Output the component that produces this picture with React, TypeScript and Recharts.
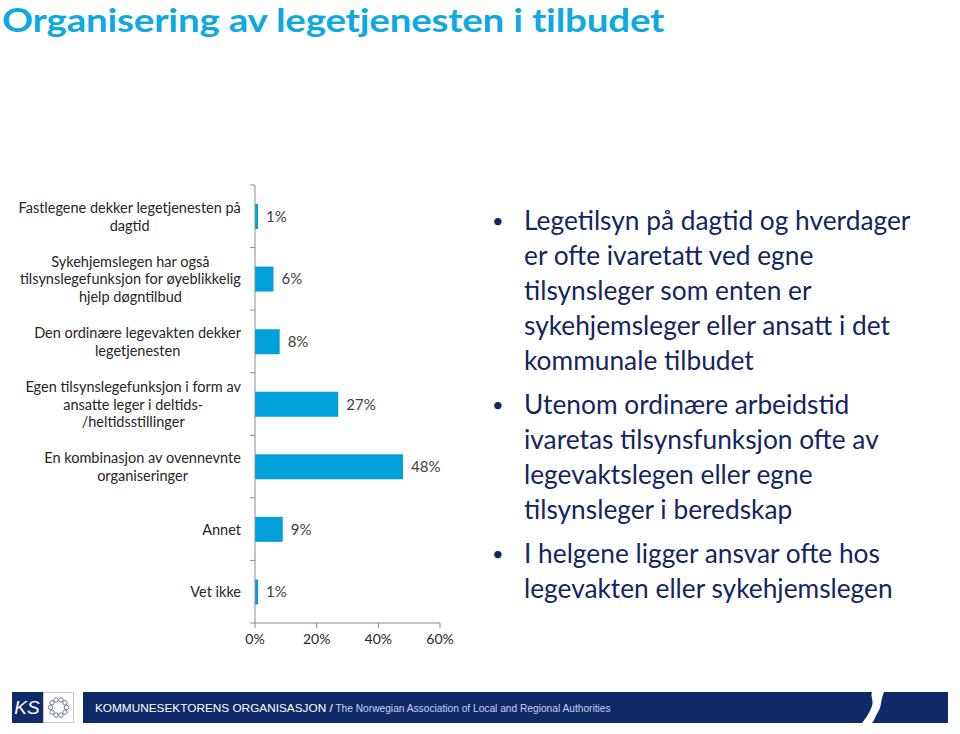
import React from 'react';
import { BarChart, Bar, XAxis, YAxis, LabelList } from 'recharts';

// chart data
const categories = [
  'Fastlegene dekker legetjenesten på\ndagtid',
  'Sykehjemslegen har også\ntilsynslegefunksjon for øyeblikkelig\nhjelp døgntilbud',
  'Den ordinære legevakten dekker\nlegetjenesten',
  'Egen tilsynslegefunksjon i form av\nansatte leger i deltids-\n/heltidsstillinger',
  'En kombinasjon av ovennevnte\norganiseringer',
  'Annet',
  'Vet ikke',
];
const shares = [1, 6, 8, 27, 48, 9, 1];
const xTicks = [0, 20, 40, 60];

const bullets = [
  ['Legetilsyn på dagtid og hverdager', 'er ofte ivaretatt ved egne', 'tilsynsleger som enten er', 'sykehjemsleger eller ansatt i det', 'kommunale tilbudet'],
  ['Utenom ordinære arbeidstid', 'ivaretas tilsynsfunksjon ofte av', 'legevaktslegen eller egne', 'tilsynsleger i beredskap'],
  ['I helgene ligger ansvar ofte hos', 'legevakten eller sykehjemslegen'],
];

const BLUE = '#00A0DC';
const NAVY = '#0E2A68';
const LABEL_SIZE = 14.5;
const LABEL_FONT = `${LABEL_SIZE}px Lato`;
const TICK_SIZE = 6;
const TICK_MARGIN = 8;
const LINE_H = 17.5;

let ctx: CanvasRenderingContext2D | null = null;
function textWidth(s: string) {
  if (!ctx) ctx = document.createElement('canvas').getContext('2d');
  if (!ctx) return s.length * 6;
  ctx.font = LABEL_FONT;
  return ctx.measureText(s).width;
}

// Excel-style category label: block right-aligned, lines centred inside it,
// plus the small tick marks that sit on the band boundaries
function CategoryTick(props: any) {
  const { x, y, payload, index, visibleTicksCount } = props;
  const lines = String(payload.value).split('\n');
  const maxW = Math.max(...lines.map(textWidth));
  const cx = x - maxW / 2;
  const top = y - ((lines.length - 1) * LINE_H) / 2;
  const axisX = x + TICK_MARGIN + TICK_SIZE;
  const half = payload.offset || 0;
  return (
    <g>
      <line x1={axisX - 5} x2={axisX} y1={y - half} y2={y - half} stroke="#8c8c8c" />
      {index === visibleTicksCount - 1 && (
        <line x1={axisX - 5} x2={axisX} y1={y + half} y2={y + half} stroke="#8c8c8c" />
      )}
      {lines.map((l, i) => (
        <text
          key={i}
          x={cx}
          y={top + i * LINE_H}
          textAnchor="middle"
          dominantBaseline="central"
          fontFamily="Lato"
          fontSize={LABEL_SIZE}
          fill="#262626"
        >
          {l}
        </text>
      ))}
    </g>
  );
}

function Footer() {
  const dots = Array.from({ length: 10 }, (_, i) => (i / 10) * Math.PI * 2);
  return (
    <svg width={960} height={40} style={{ position: 'absolute', left: 0, top: 688 }}>
      <rect x={12} y={4} width={31} height={31} fill={NAVY} />
      <text x={27} y={26} textAnchor="middle" fill="#fff" fontFamily="Liberation Sans" fontStyle="italic" fontSize={19}>
        KS
      </text>
      <rect x={43.5} y={4.5} width={30} height={30} fill="#fff" stroke="#c8c8c8" />
      {dots.map((a, i) => (
        <circle key={i} cx={58.5 + Math.cos(a) * 8} cy={19.5 + Math.sin(a) * 8} r={2.2} fill="none" stroke="#6b7a99" strokeWidth={1} />
      ))}
      <rect x={83} y={4} width={865} height={31} fill={NAVY} />
      <path d="M872 4 L884 4 C880 14 882 18 878 24 C875 29 874 33 872 35 L862 35 C866 30 870 24 872 18 C874 12 870 8 872 4 Z" fill="#fff" />
      <text x={95} y={24} fontFamily="Liberation Sans" fontSize={11.8} fill="#fff">
        KOMMUNESEKTORENS ORGANISASJON /
        <tspan fill="#c9d2e6" fontSize={10.2}> The Norwegian Association of Local and Regional Authorities</tspan>
      </text>
    </svg>
  );
}

export default function App() {
  const data = categories.map((c, i) => ({ name: c, value: shares[i] }));

  return (
    <div style={{ position: 'absolute', left: 0, top: 0, width: 960, height: 734, background: '#fff', overflow: 'hidden' }}>
      {/* Calibri-like proportions: Lato squeezed vertically */}
      <div
        style={{
          position: 'absolute',
          left: 2,
          top: 0,
          fontFamily: 'Lato',
          fontWeight: 700,
          fontSize: 38.5,
          letterSpacing: -0.2,
          lineHeight: 'normal',
          color: '#0FA9E2',
          whiteSpace: 'nowrap',
          transform: 'scaleY(0.84)',
          transformOrigin: 'top left',
        }}
      >
        Organisering av legetjenesten i tilbudet
      </div>

      <div style={{ position: 'absolute', left: 0, top: 0 }}>
        <BarChart
          width={480}
          height={680}
          data={data}
          layout="vertical"
          margin={{ top: 185, right: 40, bottom: 27, left: 0 }}
        >
          <XAxis
            type="number"
            domain={[0, 60]}
            ticks={xTicks}
            interval={0}
            tickFormatter={(v: number) => `${v}%`}
            height={30}
            stroke="#8c8c8c"
            tickSize={5}
            tickMargin={6}
            tick={{ fill: '#262626', fontSize: 14, fontFamily: 'Lato' }}
          />
          <YAxis
            type="category"
            dataKey="name"
            width={255}
            interval={0}
            stroke="#8c8c8c"
            tickLine={false}
            tickSize={TICK_SIZE}
            tickMargin={TICK_MARGIN}
            tick={<CategoryTick />}
          />
          <Bar dataKey="value" fill={BLUE} barSize={25} isAnimationActive={false}>
            <LabelList
              dataKey="value"
              position="right"
              offset={8}
              formatter={(v: any) => `${v}%`}
              style={{ fill: '#404040', fontSize: 15, fontFamily: 'Lato' }}
            />
          </Bar>
        </BarChart>
      </div>

      <div style={{ position: 'absolute', left: 492, top: 203, fontFamily: 'Lato', fontSize: 26.3, color: '#15255E', lineHeight: '35px' }}>
        {bullets.map((lines, i) => (
          <div key={i} style={{ position: 'relative', paddingLeft: 32, marginBottom: 9, whiteSpace: 'nowrap' }}>
            <span style={{ position: 'absolute', left: 0, top: 0, fontSize: 20 }}>•</span>
            {lines.map((l, j) => (
              <div key={j}>{l}</div>
            ))}
          </div>
        ))}
      </div>

      <Footer />
    </div>
  );
}
